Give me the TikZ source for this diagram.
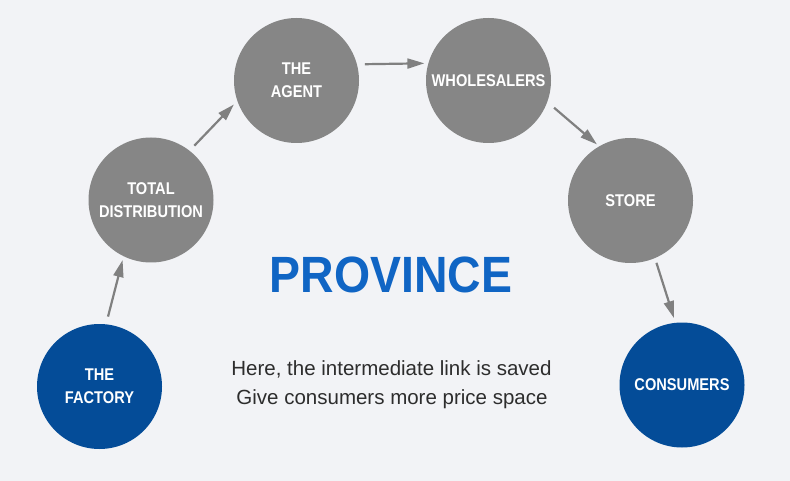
\documentclass[tikz,border=0pt]{standalone}
\usepackage{fontspec}
\setmainfont{Liberation Sans}
\newfontfamily\circfont[FakeStretch=0.86]{Liberation Sans}
\newfontfamily\titlefont[FakeStretch=0.91]{Liberation Sans}
\usetikzlibrary{arrows.meta}
\definecolor{bg}{RGB}{242,243,246}
\definecolor{ballgray}{RGB}{134,134,134}
\definecolor{ballblue}{RGB}{4,76,152}
\definecolor{provblue}{RGB}{16,101,196}
\definecolor{arrowgray}{RGB}{128,128,128}
\definecolor{subtext}{RGB}{45,45,45}
\begin{document}
\begin{tikzpicture}[x=1pt,y=-1pt,
  ball/.style={circle, minimum size=125pt, inner sep=0pt, outer sep=0pt, text=white, align=center,
    font=\circfont\bfseries\fontsize{17}{23}\selectfont},
  grayball/.style={ball, fill=ballgray},
  blueball/.style={ball, fill=ballblue},
  arr/.style={draw=arrowgray, line width=2.2pt, -{Triangle[length=17pt,width=10pt]}},
  title/.style={text=provblue, inner sep=0pt, font=\titlefont\bfseries\fontsize{51}{51}\selectfont},
  subline/.style={text=subtext, inner sep=0pt, anchor=base, font=\fontsize{20.5}{29}\selectfont}]
\fill[bg] (0,0) rectangle (790,481);
\useasboundingbox (0,0) rectangle (790,481);

\node[blueball] (factory) at (99.5,386.5) {THE\\FACTORY};
\node[grayball] (total) at (151,200) {TOTAL\\DISTRIBUTION};
\node[grayball] (agent) at (296.5,80.5) {THE\\AGENT};
\node[grayball] (whole) at (488.5,80.5) {WHOLESALERS};
\node[grayball] (store) at (630.5,200.5) {STORE};
\node[blueball] (cons) at (682,385) {CONSUMERS};

\draw[arr, shorten <=8pt, shorten >=4pt] (factory.84.7) -- (total.244.2);
\draw[arr, shorten <=7pt, shorten >=5pt] (total.52.6) -- (agent.199.5);
\draw[arr, shorten <=8pt, shorten >=4pt] (agent.15.3) -- (whole.164.7);
\draw[arr, shorten <=9pt, shorten >=3pt] (whole.340.8) -- (store.120.7);
\draw[arr, shorten <=5pt, shorten >=5pt] (store.293) -- (cons.96.8);

\node[title] (prov) at (391,275) {PROVINCE};
\node[subline] (sub1) at (391.5,375) {Here, the intermediate link is saved};
\node[subline] (sub2) at (392,404) {Give consumers more price space};
\end{tikzpicture}
\end{document}
